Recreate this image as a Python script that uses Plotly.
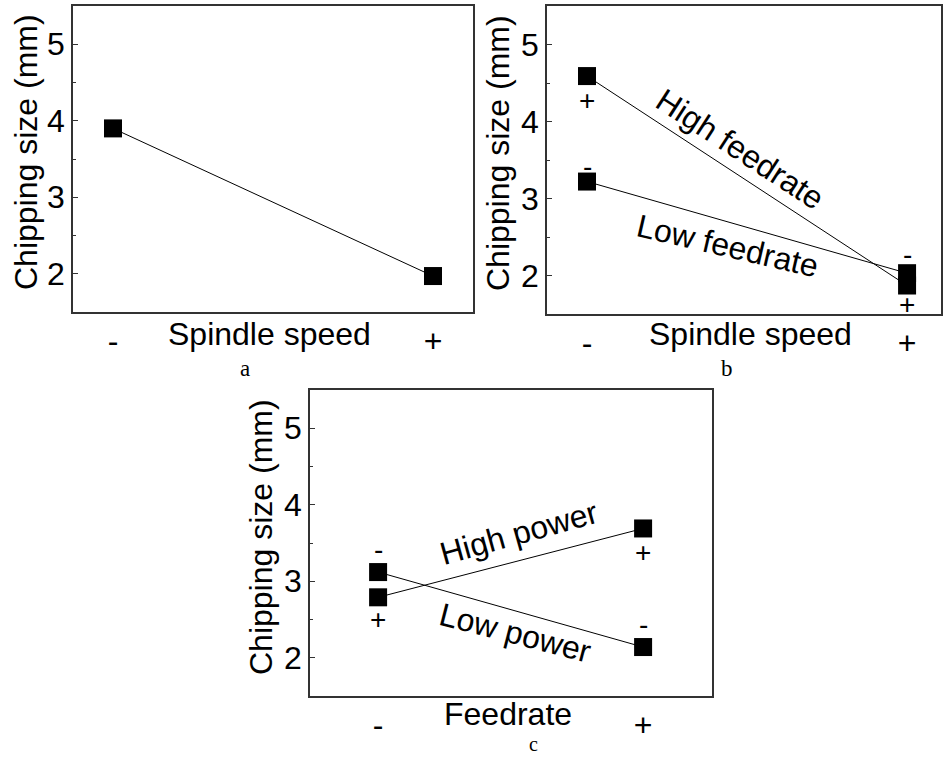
import plotly.graph_objects as go

# ---- data ----
levels = [0, 1]
level_labels = ["-", "+"]
yticks = [2, 3, 4, 5]

a_chipping = [3.90, 1.97]

b_high_feed = [4.59, 1.87]
b_low_feed = [3.22, 2.03]

c_high_power = [2.79, 3.69]
c_low_power = [3.12, 2.14]

W, H = 943, 757
def px(xp):
    return xp / W
def py(yp):
    return 1 - yp / H

FONT = "Liberation Sans, Arial, sans-serif"
SERIF = "Liberation Serif, Times New Roman, serif"

fig = go.Figure()

def add_line(x, y, xa, ya):
    fig.add_trace(go.Scatter(
        x=x, y=y, xaxis=xa, yaxis=ya, mode="lines+markers",
        line=dict(color="black", width=1),
        marker=dict(symbol="square", size=18, color="black"),
        showlegend=False, hoverinfo="skip"))

add_line(levels, a_chipping, "x", "y")
add_line(levels, b_high_feed, "x2", "y2")
add_line(levels, b_low_feed, "x2", "y2")
add_line(levels, c_high_power, "x3", "y3")
add_line(levels, c_low_power, "x3", "y3")

def xaxis(domain, rng, anchor):
    return dict(domain=domain, range=rng, tickvals=levels, ticktext=level_labels,
                ticks="", showline=True, mirror=True, linecolor="#333", linewidth=1.5,
                showgrid=False, zeroline=False, anchor=anchor,
                tickfont=dict(size=32, family=FONT, color="black"),
                fixedrange=True)

def yaxis(domain, anchor):
    return dict(domain=domain, range=[1.5, 5.5], tickvals=yticks, ticks="inside", ticklen=5,
                tickwidth=1.2, tickcolor="#333", showline=True, mirror=True, linecolor="#333",
                linewidth=1.5, showgrid=False, zeroline=False, anchor=anchor,
                tickfont=dict(size=32, family=FONT, color="black"),
                minor=dict(ticks="inside", ticklen=3, dtick=0.5, tickcolor="#333", tickwidth=1.2),
                fixedrange=True)

fig.update_layout(
    width=W, height=H, margin=dict(l=0, r=0, t=0, b=0),
    paper_bgcolor="white", plot_bgcolor="white",
    xaxis=xaxis([px(73), px(473)], [-0.125, 1.125], "y"),
    yaxis=yaxis([py(312), py(6)], "x"),
    xaxis2=xaxis([px(547), px(941)], [-0.125, 1.106], "y2"),
    yaxis2=yaxis([py(314), py(6)], "x2"),
    xaxis3=xaxis([px(310), px(712)], [-0.257, 1.26], "y3"),
    yaxis3=yaxis([py(696), py(390)], "x3"),
)

ann = []
def text(x, y, t, size=32, angle=0, xref="paper", yref="paper", family=FONT, yanchor="middle"):
    ann.append(dict(x=x, y=y, xref=xref, yref=yref, text=t, showarrow=False,
                    textangle=angle, font=dict(size=size, family=family, color="black"),
                    xanchor="center", yanchor=yanchor))

# y titles
text(px(26), py(152), "Chipping size (mm)", angle=-90)
text(px(498), py(153), "Chipping size (mm)", angle=-90)
text(px(261), py(537), "Chipping size (mm)", angle=-90)
# x titles
text(0.49, py(334), "Spindle speed", xref="x")
text(0.51, py(334), "Spindle speed", xref="x2")
text(0.49, py(714), "Feedrate", xref="x3")
# panel letters
text(px(245), py(368), "a", size=23, family=SERIF)
text(px(727), py(368), "b", size=23, family=SERIF)
text(px(533), 0.0, "c", size=20, family=SERIF, yanchor="bottom")

# panel b labels
text(0, 4.27, "+", size=28, xref="x2", yref="y2")
text(0, 3.42, "-", size=28, xref="x2", yref="y2")
text(1, 2.27, "-", size=28, xref="x2", yref="y2")
text(1, 1.62, "+", size=28, xref="x2", yref="y2")
text(0.478, 3.64, "High feedrate", angle=33, xref="x2", yref="y2")
text(0.44, 2.38, "Low feedrate", angle=13, xref="x2", yref="y2")

# panel c labels
text(0, 3.41, "-", size=28, xref="x3", yref="y3")
text(0, 2.50, "+", size=28, xref="x3", yref="y3")
text(1, 3.38, "+", size=28, xref="x3", yref="y3")
text(1, 2.44, "-", size=28, xref="x3", yref="y3")
text(0.53, 3.63, "High power", angle=-15.5, xref="x3", yref="y3")
text(0.52, 2.33, "Low power", angle=14.5, xref="x3", yref="y3")

fig.update_layout(annotations=ann)
fig.write_html("out.html")
